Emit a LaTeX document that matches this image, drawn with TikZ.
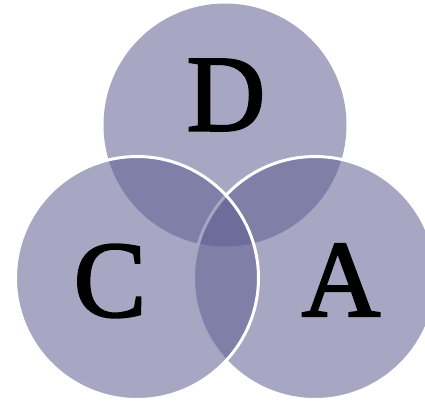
\documentclass[tikz,border=0pt]{standalone}
\usepackage{fontspec}
\setmainfont{Liberation Serif}
\newfontfamily\lettersfont[FakeBold=2]{Liberation Serif}
\usepackage{tikz}
\usetikzlibrary{positioning}

\definecolor{vennblue}{RGB}{94,94,146}

\begin{document}
\begin{tikzpicture}[x=0.02cm, y=-0.02cm,
  venn/.style={circle, inner sep=0pt, minimum size=4.86cm, fill=vennblue, fill opacity=0.55},
  rim/.style={draw=white, line width=1.7pt},
  letter/.style={inner sep=0pt, font=\lettersfont\fontsize{62}{62}\selectfont}]
  \useasboundingbox (0,0) rectangle (425,402);
  \clip (0,0) rectangle (425,402);
  % the three sets, D under A under C
  \node[venn] (dset) at (225,125) {};
  \node[venn, rim] (aset) at (315,278) {};
  \node[venn, rim] (cset) at (137,278) {};
  % letters
  \node[letter] (dlab) at (226,95) {D};
  \node[letter] (clab) at (110,281) {C};
  \node[letter] (alab) at (341,280) {A};
\end{tikzpicture}
\end{document}
